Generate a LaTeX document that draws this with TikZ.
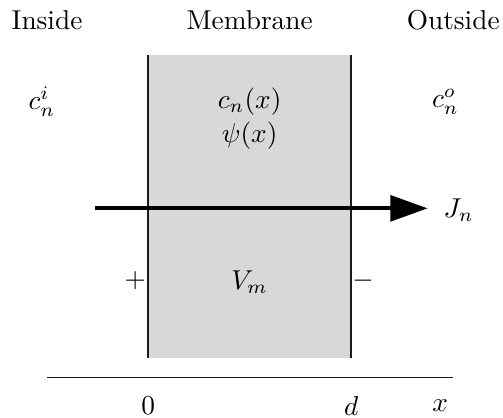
\documentclass[tikz,border=0pt]{standalone}
\usepackage{xcolor}
\usepackage{tikz}
\usetikzlibrary{calc,arrows.meta}
\definecolor{MembraneFill}{HTML}{D8D8D8}
\definecolor{MembraneInk}{HTML}{1A1A1A}
\tikzset{
  wall line/.style={draw=MembraneInk,line width=0.6pt},
  axis line/.style={draw=MembraneInk,line width=0.6pt},
  flux arrow/.style={draw=black,line width=1.5pt,-{Triangle[length=0.48cm,width=0.33cm]}},
  region label/.style={inner sep=0pt,text=black}
}

\begin{document}
\begin{tikzpicture}[x=1cm,y=1cm]
  \path[use as bounding box] (0,0) rectangle (6.47,5.37);

  \def\xleft{1.905}
  \def\xright{4.517}
  \def\ybot{0.76}
  \def\ytop{4.66}
  \def\xmid{3.211}

  % membrane slab
  \fill[MembraneFill] (\xleft,\ybot) rectangle (\xright,\ytop);
  \coordinate (wlb) at (\xleft,\ybot);
  \coordinate (wlt) at (\xleft,\ytop);
  \coordinate (wrb) at (\xright,\ybot);
  \coordinate (wrt) at (\xright,\ytop);
  \draw[wall line] (wlb) -- (wlt);
  \draw[wall line] (wrb) -- (wrt);

  % headings
  \node[region label] (inside) at (0.605,5.11) {Inside};
  \node[region label] (membrane) at (\xmid,5.11) {Membrane};
  \node[region label] (outside) at (5.83,5.11) {Outside};

  % concentrations and potential
  \node[region label] (cin) at (0.54,4.06) {$c_n^i$};
  \node[region label] (cout) at (5.73,4.06) {$c_n^o$};
  \node[region label] (cx) at (\xmid,4.06) {$c_n(x)$};
  \node[region label] (psi) at (\xmid,3.62) {$\psi(x)$};

  % flux
  \coordinate (jstart) at (1.22,2.69);
  \coordinate (jend) at (5.50,2.69);
  \draw[flux arrow] (jstart) -- (jend);
  \node[region label,anchor=west] (Jn) at (5.70,2.67) {$J_n$};

  % membrane voltage
  \node[region label] (plus) at (1.74,1.76) {$+$};
  \node[region label] (Vm) at (\xmid,1.74) {$V_m$};
  \node[region label] (minus) at (4.67,1.76) {$-$};

  % position axis
  \coordinate (axl) at (0.605,0.515);
  \coordinate (axr) at (5.83,0.515);
  \draw[axis line] (axl) -- (axr);
  \node[region label] (zero) at (\xleft,0.15) {$0$};
  \node[region label] (dd) at (\xright,0.15) {$d$};
  \node[region label] (xx) at (5.663,0.15) {$x$};
\end{tikzpicture}
\end{document}
